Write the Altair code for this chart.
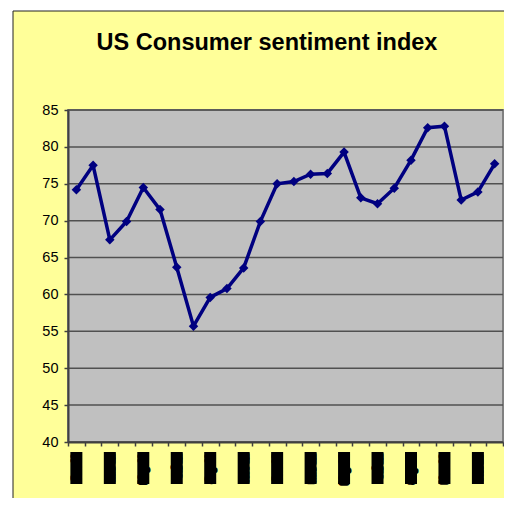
import altair as alt
import pandas as pd

# ---- data ----
months = ["Jan-11", "Feb-11", "Mar-11", "Apr-11", "May-11", "Jun-11", "Jul-11", "Aug-11",
          "Sep-11", "Oct-11", "Nov-11", "Dec-11", "Jan-12", "Feb-12", "Mar-12", "Apr-12",
          "May-12", "Jun-12", "Jul-12", "Aug-12", "Sep-12", "Oct-12", "Nov-12", "Dec-12",
          "Jan-13", "Feb-13"]
sentiment = [74.2, 77.5, 67.4, 69.9, 74.5, 71.5, 63.7, 55.7, 59.6, 60.8, 63.6, 69.9,
             75.0, 75.3, 76.3, 76.4, 79.3, 73.1, 72.3, 74.4, 78.2, 82.6, 82.8, 72.8,
             73.9, 77.7]
y_ticks = [40, 45, 50, 55, 60, 65, 70, 75, 80, 85]
shown_labels = months[::2]
title_text = ["US Consumer sentiment index"]

W, H = 435, 332
FONT = "Liberation Sans"

line_df = pd.DataFrame({"month": months, "value": sentiment})
grid_df = pd.DataFrame({"tick": y_ticks})
label_df = pd.DataFrame({"month": shown_labels})
title_df = pd.DataFrame({"title": title_text})
one = pd.DataFrame({"k": [0]})

xscale = alt.Scale(type="band", domain=months, paddingInner=0, paddingOuter=0)
yscale = alt.Scale(domain=[40, 85], nice=False, zero=False)

xaxis = alt.Axis(labels=False, title=None, grid=False, tickBand="extent", tickSize=4,
                 tickColor="#404040", tickWidth=1.5, domainColor="#404040",
                 domainWidth=2, zindex=1)
yaxis = alt.Axis(values=y_ticks, title=None, grid=False, tickSize=4, tickColor="#404040",
                 tickWidth=1.5, domainColor="#404040", domainWidth=2,
                 labelFont=FONT, labelFontSize=14.5, labelColor="black",
                 labelPadding=6, zindex=1)

# chart area (light yellow, black border)
chart_area = alt.Chart(one).mark_rect(fill="#FFFF99", stroke="#222222", strokeWidth=1).encode(
    x=alt.value(-55), x2=alt.value(W + 80), y=alt.value(-99), y2=alt.value(H + 100)
)
# plot area (silver, grey border)
plot_area = alt.Chart(one).mark_rect(fill="#C0C0C0", stroke="#808080", strokeWidth=2).encode(
    x=alt.value(0), x2=alt.value(W), y=alt.value(0), y2=alt.value(H)
)
title = alt.Chart(title_df).mark_text(
    font=FONT, fontSize=23.5, fontWeight="bold", color="black",
    align="center", baseline="alphabetic"
).encode(x=alt.value(W / 2 - 18.5), y=alt.value(-60), text="title:N")

grid = alt.Chart(grid_df).mark_rule(color="#505050", strokeWidth=1.5).encode(
    y=alt.Y("tick:Q", scale=yscale, axis=yaxis)
)
line = alt.Chart(line_df).mark_line(color="#000080", strokeWidth=3.5).encode(
    x=alt.X("month:N", scale=xscale, axis=xaxis, sort=months),
    y=alt.Y("value:Q", scale=yscale, axis=yaxis),
)
points = alt.Chart(line_df).mark_point(shape="diamond", filled=True, color="#000080",
                                       size=90, opacity=1).encode(
    x=alt.X("month:N", scale=xscale, axis=xaxis, sort=months),
    y=alt.Y("value:Q", scale=yscale, axis=yaxis),
)
# rotated category labels, rendered as solid black blocks like the reference
label_blocks = alt.Chart(label_df).mark_bar(size=12, color="black").encode(
    x=alt.X("month:N", scale=xscale, axis=xaxis, sort=months),
    y=alt.value(H + 10), y2=alt.value(H + 42),
)
labels = alt.Chart(label_df).mark_text(
    angle=270, align="right", baseline="middle", font=FONT, fontSize=9,
    fill="black", stroke="black", strokeWidth=5, strokeJoin="round"
).encode(
    x=alt.X("month:N", scale=xscale, axis=xaxis, sort=months),
    y=alt.value(H + 12),
    text="month:N",
)

chart = alt.layer(chart_area, plot_area, title, grid, line, points,
                  label_blocks, labels).properties(
    width=W, height=H,
    autosize=alt.AutoSizeParams(type="none"),
    padding={"left": 60, "top": 102, "right": 1, "bottom": 56},
    background="white",
).configure_view(stroke=None, fill=None)

chart.save("out.html", embed_options={"renderer": "svg", "actions": False})
